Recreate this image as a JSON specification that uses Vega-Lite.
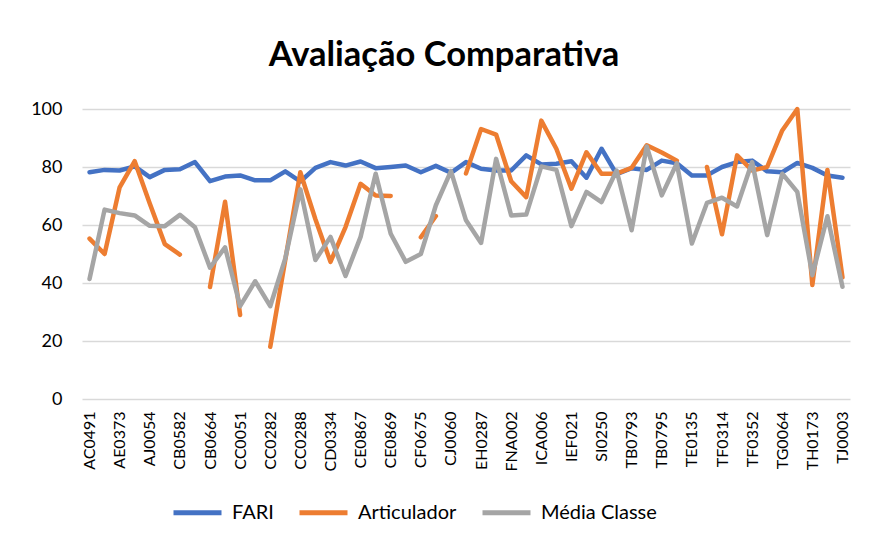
{
  "$schema": "https://vega.github.io/schema/vega-lite/v6.json",
  "width": 768,
  "height": 290,
  "autosize": "none",
  "padding": {"left": 82, "top": 109, "right": 19, "bottom": 141},
  "background": "white",
  "config": {
    "font": "Lato",
    "view": {"stroke": null}
  },
  "title": {
    "text": "Avaliação Comparativa",
    "fontSize": 34.5,
    "fontWeight": "bold",
    "font": "Lato",
    "color": "#000000",
    "anchor": "middle",
    "frame": "group",
    "dx": -22,
    "offset": 27
  },
  "data": {
    "values": [
      {"cod": "AC0491", "FARI": 78.2, "Articulador": 55.3, "Média Classe": 41.4},
      {"cod": "AD0112", "FARI": 79, "Articulador": 50, "Média Classe": 65.3},
      {"cod": "AE0373", "FARI": 78.8, "Articulador": 73, "Média Classe": 64.1},
      {"cod": "AF0210", "FARI": 80.2, "Articulador": 82, "Média Classe": 63.3},
      {"cod": "AJ0054", "FARI": 76.5, "Articulador": 67.4, "Média Classe": 59.7},
      {"cod": "CB0318", "FARI": 79, "Articulador": 53.4, "Média Classe": 59.6},
      {"cod": "CB0582", "FARI": 79.2, "Articulador": 49.8, "Média Classe": 63.5},
      {"cod": "CB0601", "FARI": 81.7, "Articulador": null, "Média Classe": 59.2},
      {"cod": "CB0664", "FARI": 75.1, "Articulador": 38.6, "Média Classe": 45.3},
      {"cod": "CB0790", "FARI": 76.7, "Articulador": 68, "Média Classe": 52.3},
      {"cod": "CC0051", "FARI": 77.1, "Articulador": 29, "Média Classe": 32},
      {"cod": "CC0147", "FARI": 75.4, "Articulador": null, "Média Classe": 40.6},
      {"cod": "CC0282", "FARI": 75.4, "Articulador": 18, "Média Classe": 32},
      {"cod": "CC0285", "FARI": 78.5, "Articulador": 48, "Média Classe": 48.5},
      {"cod": "CC0288", "FARI": 75, "Articulador": 78.2, "Média Classe": 72.3},
      {"cod": "CD0105", "FARI": 79.7, "Articulador": 62, "Média Classe": 47.9},
      {"cod": "CD0334", "FARI": 81.7, "Articulador": 47.3, "Média Classe": 55.9},
      {"cod": "CE0412", "FARI": 80.5, "Articulador": 59.3, "Média Classe": 42.4},
      {"cod": "CE0867", "FARI": 81.9, "Articulador": 74.2, "Média Classe": 55.9},
      {"cod": "CE0868", "FARI": 79.6, "Articulador": 70.2, "Média Classe": 77.7},
      {"cod": "CE0869", "FARI": 80, "Articulador": 70, "Média Classe": 57},
      {"cod": "CF0221", "FARI": 80.5, "Articulador": null, "Média Classe": 47.3},
      {"cod": "CF0675", "FARI": 78.2, "Articulador": 55.8, "Média Classe": 50},
      {"cod": "CG0143", "FARI": 80.4, "Articulador": 63.1, "Média Classe": 66.8},
      {"cod": "CJ0060", "FARI": 78, "Articulador": null, "Média Classe": 78.6},
      {"cod": "EA0512", "FARI": 81.7, "Articulador": 77.8, "Média Classe": 61.6},
      {"cod": "EH0287", "FARI": 79.4, "Articulador": 93.1, "Média Classe": 53.8},
      {"cod": "FA0190", "FARI": 78.8, "Articulador": 91.2, "Média Classe": 82.8},
      {"cod": "FNA002", "FARI": 78.8, "Articulador": 75.1, "Média Classe": 63.3},
      {"cod": "GA0335", "FARI": 84, "Articulador": 69.6, "Média Classe": 63.6},
      {"cod": "ICA006", "FARI": 80.9, "Articulador": 96, "Média Classe": 80.2},
      {"cod": "IE0077", "FARI": 81.1, "Articulador": 86.3, "Média Classe": 79},
      {"cod": "IEF021", "FARI": 82, "Articulador": 72.5, "Média Classe": 59.6},
      {"cod": "PS0144", "FARI": 76.3, "Articulador": 85.1, "Média Classe": 71.4},
      {"cod": "SI0250", "FARI": 86.3, "Articulador": 77.7, "Média Classe": 67.9},
      {"cod": "TA0412", "FARI": 77.5, "Articulador": 77.7, "Média Classe": 78.8},
      {"cod": "TB0793", "FARI": 79.6, "Articulador": 79.7, "Média Classe": 58.2},
      {"cod": "TB0794", "FARI": 79, "Articulador": 87.5, "Média Classe": 87.1},
      {"cod": "TB0795", "FARI": 82.2, "Articulador": 85, "Média Classe": 70.2},
      {"cod": "TC0218", "FARI": 81.3, "Articulador": 82.2, "Média Classe": 81.3},
      {"cod": "TE0135", "FARI": 77.1, "Articulador": null, "Média Classe": 53.6},
      {"cod": "TF0120", "FARI": 77.1, "Articulador": 80, "Média Classe": 67.6},
      {"cod": "TF0314", "FARI": 80, "Articulador": 56.8, "Média Classe": 69.4},
      {"cod": "TF0331", "FARI": 81.7, "Articulador": 84, "Média Classe": 66.4},
      {"cod": "TF0352", "FARI": 82.2, "Articulador": 78.8, "Média Classe": 81.7},
      {"cod": "TG0011", "FARI": 78.5, "Articulador": 80, "Média Classe": 56.5},
      {"cod": "TG0064", "FARI": 78.2, "Articulador": 92.6, "Média Classe": 77.7},
      {"cod": "TH0090", "FARI": 81.4, "Articulador": 100, "Média Classe": 71.4},
      {"cod": "TH0173", "FARI": 79.7, "Articulador": 39.3, "Média Classe": 42.7},
      {"cod": "TI0205", "FARI": 77.1, "Articulador": 79, "Média Classe": 63},
      {"cod": "TJ0003", "FARI": 76.3, "Articulador": 42, "Média Classe": 38.7}
    ]
  },
  "transform": [
    {"fold": ["FARI", "Articulador", "Média Classe"], "as": ["serie", "valor"]}
  ],
  "mark": {
    "type": "line",
    "strokeWidth": 4.5,
    "strokeCap": "round",
    "strokeJoin": "round",
    "invalid": "break-paths-show-domains"
  },
  "encoding": {
    "x": {
      "field": "cod",
      "type": "nominal",
      "sort": null,
      "scale": {"type": "point", "padding": 0.5},
      "axis": {
        "title": null,
        "values": ["AC0491","AE0373","AJ0054","CB0582","CB0664","CC0051","CC0282","CC0288","CD0334","CE0867","CE0869","CF0675","CJ0060","EH0287","FNA002","ICA006","IEF021","SI0250","TB0793","TB0795","TE0135","TF0314","TF0352","TG0064","TH0173","TJ0003"],
        "labelAngle": -90,
        "labelAlign": "right",
        "labelBaseline": "middle",
        "labelFontSize": 16,
        "labelColor": "#000000",
        "labelPadding": 12,
        "ticks": false,
        "domain": false,
        "grid": false
      }
    },
    "y": {
      "field": "valor",
      "type": "quantitative",
      "scale": {"domain": [0, 100], "nice": false},
      "axis": {
        "title": null,
        "values": [0, 20, 40, 60, 80, 100],
        "labelFontSize": 18,
        "labelColor": "#000000",
        "labelPadding": 20,
        "ticks": false,
        "domain": false,
        "grid": true,
        "gridColor": "#d9d9d9",
        "gridWidth": 1.5
      }
    },
    "color": {
      "field": "serie",
      "type": "nominal",
      "scale": {
        "domain": ["FARI", "Articulador", "Média Classe"],
        "range": ["#4472C4", "#ED7D31", "#A5A5A5"]
      },
      "legend": {
        "title": null,
        "orient": "none",
        "legendX": 89,
        "legendY": 377,
        "direction": "horizontal",
        "symbolType": "stroke",
        "symbolSize": 2304,
        "symbolStrokeWidth": 5,
        "labelFontSize": 20,
        "labelColor": "#000000",
        "labelOffset": 8,
        "columnPadding": 15
      }
    }
  }
}
